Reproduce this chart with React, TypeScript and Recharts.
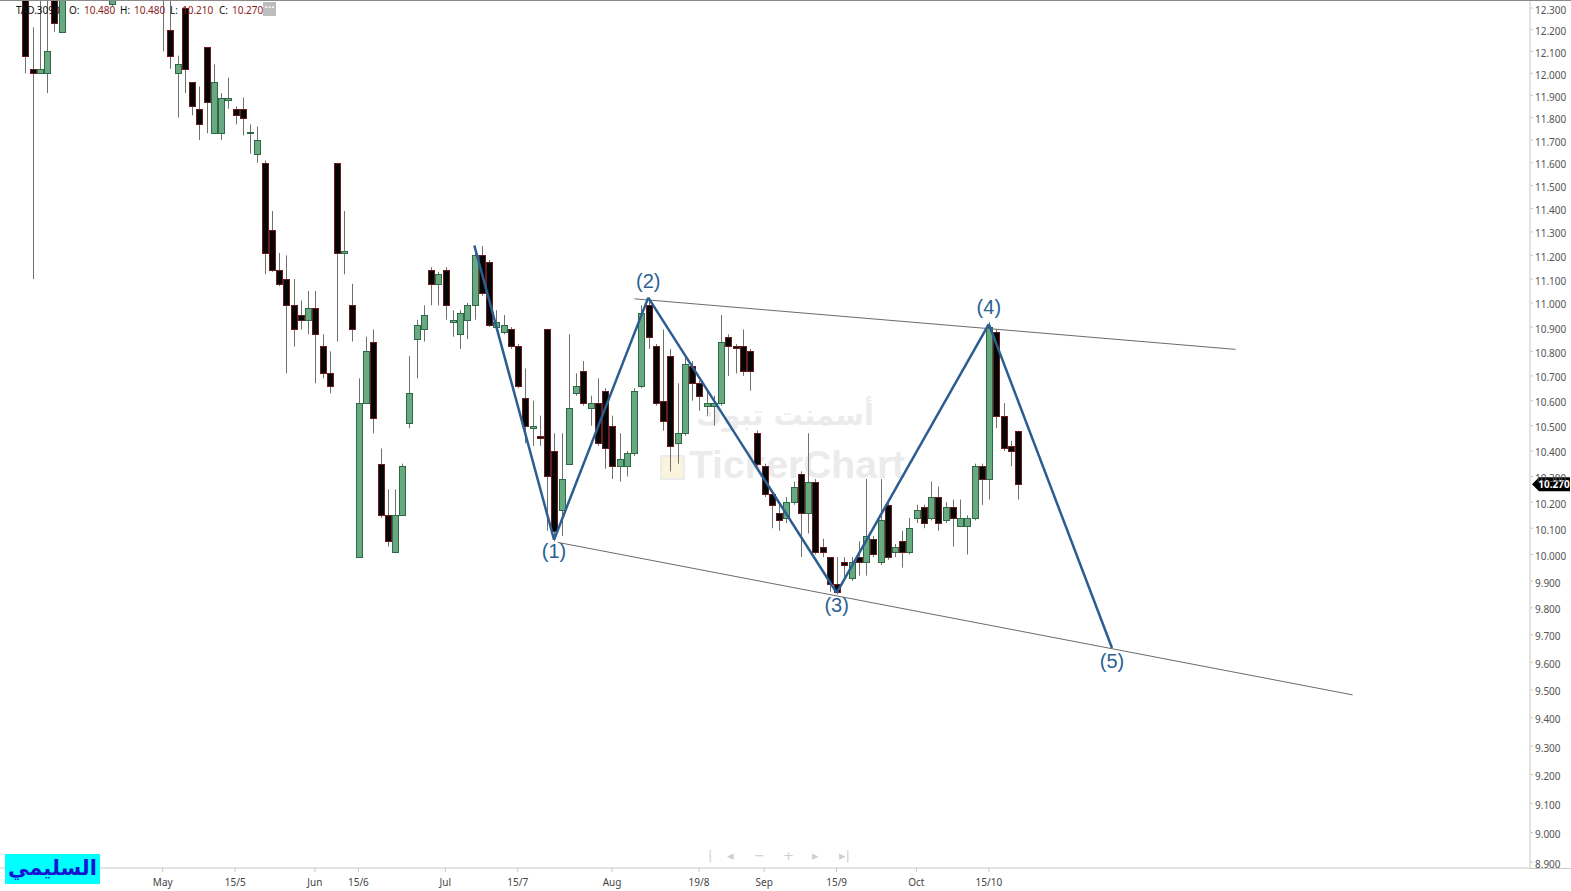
import React from "react";
import { ComposedChart, Bar, XAxis, YAxis, ReferenceLine, ReferenceDot } from "recharts";

// daily candles, TAD.3090 (left part of the window runs above the visible range)
const OPEN = [
  12.42, 12.02, 12.0, 12.0, 12.4, 12.19, 12.38, 12.46, 12.55, 12.5, 12.44, 12.48, 12.32, 12.37, 12.45, 12.52, 12.5, 12.46, 12.42, 12.45,
  12.2, 12.0, 12.3, 11.96, 11.84, 12.12, 11.73, 11.73, 11.88, 11.84, 11.84, 11.73, 11.64, 11.6, 11.31, 11.14, 11.1, 10.99, 10.95, 10.93,
  10.98, 10.82, 10.71, 11.6, 11.21, 10.99, 9.99, 10.59, 10.84, 10.35, 10.15, 10.01, 10.15, 10.51, 10.85, 10.89, 11.14, 11.08, 11.14, 10.92,
  10.87, 10.93, 10.99, 11.2, 11.17, 10.9, 10.88, 10.89, 10.82, 10.61, 10.49, 10.46, 10.89, 10.4, 10.17, 10.35, 10.63, 10.72, 10.57, 10.59,
  10.64, 10.5, 10.34, 10.34, 10.39, 10.66, 10.99, 10.82, 10.6, 10.78, 10.43, 10.47, 10.74, 10.67, 10.58, 10.58, 10.59, 10.86, 10.82, 10.82,
  10.8, 10.47, 10.34, 10.23, 10.16, 10.14, 10.2, 10.31, 10.16, 10.28, 10.03, 9.99, 9.89, 9.97, 9.91, 9.99, 9.97, 10.06, 9.97, 10.19,
  10.01, 10.05, 10.01, 10.14, 10.18, 10.14, 10.22, 10.13, 10.18, 10.11, 10.11, 10.14, 10.34, 10.29, 10.88, 10.54, 10.42, 10.48,
];
const HIGH = [
  12.46, 12.21, 12.4, 12.38, 12.45, 12.42, 12.5, 12.58, 12.62, 12.56, 12.52, 12.5, 12.4, 12.48, 12.55, 12.6, 12.56, 12.52, 12.48, 12.5,
  12.36, 12.08, 12.31, 11.96, 11.94, 12.12, 12.04, 11.91, 11.98, 11.85, 11.89, 11.77, 11.76, 11.61, 11.39, 11.21, 11.2, 11.1, 11.01, 11.05,
  11.05, 10.87, 10.8, 11.6, 11.39, 11.08, 10.69, 10.86, 10.89, 10.41, 10.25, 10.25, 10.35, 10.78, 10.93, 10.99, 11.15, 11.13, 11.15, 10.97,
  10.97, 11.0, 11.24, 11.24, 11.18, 10.97, 10.95, 10.9, 10.83, 10.73, 10.6, 10.54, 10.89, 10.47, 10.47, 10.87, 10.71, 10.76, 10.62, 10.69,
  10.65, 10.54, 10.47, 10.4, 10.65, 10.99, 11.02, 10.83, 10.89, 10.81, 10.67, 10.78, 10.76, 10.68, 10.64, 10.62, 10.95, 10.87, 10.83, 10.89,
  10.81, 10.48, 10.35, 10.24, 10.19, 10.22, 10.28, 10.32, 10.47, 10.29, 10.06, 9.99, 9.99, 9.99, 9.99, 10.05, 10.29, 10.07, 10.29, 10.2,
  10.04, 10.09, 10.14, 10.19, 10.19, 10.28, 10.26, 10.2, 10.21, 10.21, 10.15, 10.35, 10.35, 10.92, 10.89, 10.59, 10.44, 10.48,
];
const LOW = [
  12.0, 11.1, 12.0, 11.91, 12.19, 12.19, 12.36, 12.42, 12.48, 12.4, 12.38, 12.36, 12.31, 12.35, 12.4, 12.47, 12.42, 12.38, 12.37, 12.1,
  12.02, 11.8, 11.91, 11.81, 11.7, 11.73, 11.73, 11.7, 11.84, 11.77, 11.72, 11.64, 11.6, 11.12, 11.13, 11.07, 10.71, 10.82, 10.89, 10.87,
  10.67, 10.69, 10.63, 10.84, 11.12, 10.84, 9.99, 10.59, 10.47, 10.14, 10.03, 10.01, 10.15, 10.49, 10.69, 10.84, 10.99, 10.99, 10.93, 10.86,
  10.81, 10.85, 10.93, 11.03, 10.9, 10.89, 10.87, 10.81, 10.65, 10.43, 10.42, 10.42, 10.09, 10.05, 10.07, 10.35, 10.62, 10.58, 10.5, 10.42,
  10.33, 10.29, 10.28, 10.3, 10.38, 10.65, 10.81, 10.58, 10.48, 10.32, 10.35, 10.46, 10.6, 10.56, 10.54, 10.5, 10.58, 10.7, 10.71, 10.7,
  10.64, 10.34, 10.22, 10.1, 10.09, 10.12, 10.19, 9.99, 10.08, 10.0, 9.99, 9.86, 9.85, 9.91, 9.9, 9.92, 9.92, 9.99, 9.96, 9.98,
  9.99, 9.95, 10.0, 10.12, 10.1, 10.13, 10.09, 10.12, 10.03, 10.11, 10.0, 10.13, 10.19, 10.21, 10.49, 10.4, 10.34, 10.21,
];
const CLOSE = [
  12.08, 12.0, 12.02, 12.1, 12.23, 12.38, 12.46, 12.55, 12.5, 12.44, 12.48, 12.38, 12.37, 12.45, 12.52, 12.5, 12.46, 12.42, 12.44, 12.36,
  12.08, 12.04, 12.02, 11.85, 11.77, 11.87, 11.96, 11.89, 11.89, 11.81, 11.8, 11.735, 11.7, 11.21, 11.14, 11.08, 10.99, 10.89, 10.93, 10.98,
  10.87, 10.71, 10.66, 11.21, 11.22, 10.89, 10.59, 10.8, 10.53, 10.15, 10.05, 10.15, 10.34, 10.63, 10.91, 10.95, 11.08, 11.12, 10.99, 10.93,
  10.96, 10.99, 11.2, 11.04, 10.91, 10.92, 10.91, 10.82, 10.66, 10.5, 10.5, 10.45, 10.3, 10.09, 10.29, 10.57, 10.66, 10.59, 10.59, 10.43,
  10.41, 10.34, 10.37, 10.39, 10.64, 10.96, 10.86, 10.59, 10.52, 10.42, 10.47, 10.75, 10.67, 10.62, 10.59, 10.59, 10.84, 10.82, 10.815, 10.72,
  10.72, 10.35, 10.23, 10.19, 10.13, 10.2, 10.26, 10.16, 10.28, 10.01, 10.01, 9.89, 9.86, 9.96, 9.97, 9.97, 10.07, 10.0, 10.13, 9.99,
  10.03, 10.01, 10.1, 10.17, 10.12, 10.22, 10.12, 10.18, 10.14, 10.14, 10.14, 10.34, 10.29, 10.9, 10.54, 10.41, 10.4, 10.27,
];

const X_TICKS = [19, 29, 40, 46, 58, 68, 81, 93, 102, 112, 123, 133];
const X_LABELS = ["May", "15/5", "Jun", "15/6", "Jul", "15/7", "Aug", "19/8", "Sep", "15/9", "Oct", "15/10"];

const Y_TICKS = [
  8.9, 9.0, 9.1, 9.2, 9.3, 9.4, 9.5, 9.6, 9.7, 9.8, 9.9, 10.0, 10.1, 10.2, 10.3, 10.4, 10.5, 10.6,
  10.7, 10.8, 10.9, 11.0, 11.1, 11.2, 11.3, 11.4, 11.5, 11.6, 11.7, 11.8, 11.9, 12.0, 12.1, 12.2, 12.3,
];

// elliott wave drawing: start, (1)..(5)
const WAVE_X = [62, 73, 86, 112, 133, 150];
const WAVE_Y = [11.242, 10.056, 11.022, 9.856, 10.912, 9.652];
const WAVE_LABELS = ["", "(1)", "(2)", "(3)", "(4)", "(5)"];
const UPPER_TREND = [{ x: 84.1, y: 11.017 }, { x: 167.05, y: 10.808 }];
const LOWER_TREND = [{ x: 73.5, y: 10.046 }, { x: 183.2, y: 9.482 }];

const LAST = { o: 10.48, h: 10.48, l: 10.21, c: 10.27 };

const data = OPEN.map((o, i) => ({ i, o, h: HIGH[i], l: LOW[i], c: CLOSE[i] }));

function Candle(props: any) {
  const { x, y, width, height, payload } = props;
  const { o, h, l, c } = payload;
  const span = Math.log(h) - Math.log(l);
  const toY = (v: number) => (span > 0 ? y + (height * (Math.log(h) - Math.log(v))) / span : y);
  const cx = Math.round(x + width / 2) + 0.5;
  const up = c >= o;
  const top = Math.round(toY(Math.max(o, c))) + 0.5;
  const bot = Math.round(toY(Math.min(o, c))) + 0.5;
  const bh = Math.max(bot - top, 1);
  return (
    <g>
      <line x1={cx} x2={cx} y1={y} y2={y + height} stroke="#707070" strokeWidth={1} />
      <rect
        x={cx - 3}
        y={top}
        width={6}
        height={bh}
        fill={up ? "#69a982" : "#050505"}
        stroke={up ? "#2c6944" : "#6a1b1b"}
        strokeWidth={1}
      />
    </g>
  );
}

function PriceTick(props: any) {
  const { x, y, payload } = props;
  return (
    <text x={x} y={y + 5.5} textAnchor="start" fontSize={10} fill="#555" fontFamily="'Noto Sans', sans-serif">
      {Number(payload.value).toFixed(3)}
    </text>
  );
}

const waveLabelDy = [0, 18, -10, 19, -10, 20];

export default function App() {
  const segs = WAVE_X.slice(1).map((x, k) => [
    { x: WAVE_X[k], y: WAVE_Y[k] },
    { x, y: WAVE_Y[k + 1] },
  ]);
  const txt = { position: "absolute" as const, fontFamily: "'Noto Sans', sans-serif", fontSize: 10, top: 3, whiteSpace: "nowrap" as const };
  const red = { ...txt, color: "#8b1c1c" };
  const nav = { position: "absolute" as const, top: 848, fontSize: 13, color: "#cfcfcf", fontFamily: "'DejaVu Sans', sans-serif" };

  return (
    <div style={{ position: "absolute", left: 0, top: 0, width: 1571, height: 891, background: "#fff", overflow: "hidden" }}>
      {/* watermark, behind the candles */}
      <div style={{ position: "absolute", left: 640, top: 398, width: 290, textAlign: "center", whiteSpace: "nowrap", fontFamily: "'DejaVu Sans', sans-serif", fontWeight: 700, fontSize: 29, color: "#ebebeb", direction: "rtl" }}>
        أسمنت تبوك
      </div>
      <div style={{ position: "absolute", left: 660, top: 455, width: 25, height: 25, border: "2px solid #ececec", background: "#fbf4dc", boxSizing: "border-box" }} />
      <div style={{ position: "absolute", left: 689, top: 443, whiteSpace: "nowrap", fontFamily: "'Liberation Sans', Arial, sans-serif", fontWeight: 700, fontSize: 39, color: "#ebebeb" }}>
        TickerChart
      </div>

      <div style={{ position: "absolute", left: 0, top: 0 }}>
        <ComposedChart width={1571} height={891} data={data} margin={{ top: 1, right: 0, left: 0, bottom: 0 }}>
          <XAxis
            dataKey="i"
            type="number"
            domain={[-3.457, 207.68]}
            allowDataOverflow
            ticks={X_TICKS}
            interval={0}
            tickFormatter={(v: number) => X_LABELS[X_TICKS.indexOf(v)] ?? ""}
            height={23}
            tickSize={4}
            tickMargin={7}
            stroke="#c8c8c8"
            tick={{ fontSize: 10, fill: "#444", fontFamily: "'Noto Sans', sans-serif" }}
          />
          <YAxis
            orientation="right"
            type="number"
            scale="log"
            domain={[8.88, 12.333]}
            allowDataOverflow
            ticks={Y_TICKS}
            interval={0}
            width={41}
            tickSize={3}
            tickMargin={2}
            stroke="#c8c8c8"
            tick={PriceTick}
          />
          <Bar dataKey={(d: any) => [d.l, d.h]} barSize={6} shape={Candle} isAnimationActive={false} />
          <ReferenceLine segment={UPPER_TREND} stroke="#6b6b6b" strokeWidth={1} ifOverflow="visible" />
          <ReferenceLine segment={LOWER_TREND} stroke="#6b6b6b" strokeWidth={1} ifOverflow="visible" />
          {segs.map((s, k) => (
            <ReferenceLine key={k} segment={s} stroke="#2a5d90" strokeWidth={2.5} ifOverflow="visible" />
          ))}
          {WAVE_X.map((x, k) =>
            WAVE_LABELS[k] ? (
              <ReferenceDot
                key={"w" + k}
                x={x}
                y={WAVE_Y[k]}
                r={0}
                ifOverflow="visible"
                shape={(p: any) => (
                  <text x={p.cx} y={p.cy + waveLabelDy[k]} textAnchor="middle" fontSize={20} fill="#2c6194" fontFamily="'Liberation Sans', Arial, sans-serif">
                    {WAVE_LABELS[k]}
                  </text>
                )}
              />
            ) : null
          )}
          <ReferenceDot
            x={207.68}
            y={LAST.c}
            r={0}
            ifOverflow="visible"
            shape={(p: any) => (
              <g>
                <polygon
                  points={`${p.cx + 2},${p.cy} ${p.cx + 9},${p.cy - 7} ${p.cx + 40},${p.cy - 7} ${p.cx + 40},${p.cy + 7} ${p.cx + 9},${p.cy + 7}`}
                  fill="#000"
                />
                <text x={p.cx + 24} y={p.cy + 4} textAnchor="middle" fontSize={10} fontWeight={700} fill="#fff" fontFamily="'Noto Sans', sans-serif">
                  {LAST.c.toFixed(3)}
                </text>
              </g>
            )}
          />
        </ComposedChart>
      </div>

      {/* frame lines */}
      <div style={{ position: "absolute", left: 0, top: 0, width: 1571, height: 1, background: "#8a8a8a" }} />
      <div style={{ position: "absolute", left: 1530, top: 868, width: 41, height: 1, background: "#c8c8c8" }} />

      {/* header */}
      <span style={{ ...txt, left: 16, color: "#111" }}>TAD.3090</span>
      <span style={{ ...txt, left: 69, color: "#111" }}>O:</span>
      <span style={{ ...red, left: 84 }}>{LAST.o.toFixed(3)}</span>
      <span style={{ ...txt, left: 120, color: "#111" }}>H:</span>
      <span style={{ ...red, left: 134 }}>{LAST.h.toFixed(3)}</span>
      <span style={{ ...txt, left: 170, color: "#111" }}>L:</span>
      <span style={{ ...red, left: 182 }}>{LAST.l.toFixed(3)}</span>
      <span style={{ ...txt, left: 219, color: "#111" }}>C:</span>
      <span style={{ ...red, left: 232 }}>{LAST.c.toFixed(3)}</span>
      <div style={{ position: "absolute", left: 263, top: 2, width: 13, height: 14, background: "#bdbdbd", color: "#fff", fontSize: 9, lineHeight: "11px", textAlign: "center", fontFamily: "'DejaVu Sans', sans-serif", fontWeight: 700 }}>
        ···
      </div>

      {/* navigation strip */}
      <span style={{ ...nav, left: 708 }}>|</span>
      <span style={{ ...nav, left: 727 }}>◂</span>
      <span style={{ ...nav, left: 754 }}>−</span>
      <span style={{ ...nav, left: 783 }}>+</span>
      <span style={{ ...nav, left: 812 }}>▸</span>
      <span style={{ ...nav, left: 839 }}>▸|</span>

      {/* author tag */}
      <div style={{ position: "absolute", left: 5, top: 854, width: 95, height: 30, background: "#00ffff", color: "#1515d4", fontFamily: "'DejaVu Sans', sans-serif", fontWeight: 700, fontSize: 21, lineHeight: "28px", textAlign: "center", direction: "rtl" }}>
        السليمي
      </div>
    </div>
  );
}
